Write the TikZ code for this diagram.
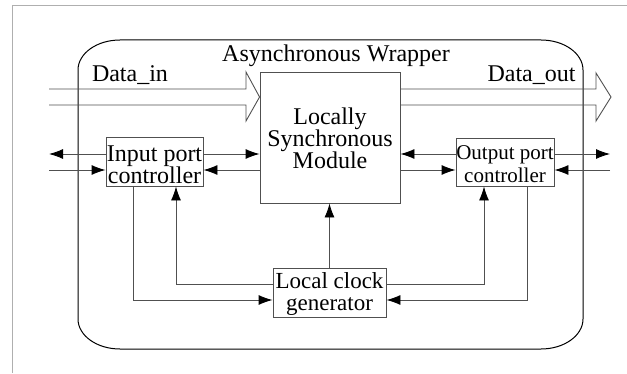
\documentclass[tikz,border=0pt]{standalone}
\usepackage{fontspec}
\setmainfont{Liberation Serif}
\usetikzlibrary{arrows.meta,calc}

\definecolor{linegray}{RGB}{80,80,80}
\definecolor{framegray}{RGB}{175,175,175}

\tikzset{
  conn/.style={draw=linegray, line width=0.9pt},
  arr/.style={conn, -{Latex[length=14pt,width=10pt,color=black]}},
  blockbox/.style={draw=linegray, line width=0.9pt, inner sep=0pt},
  txt/.style={inner sep=0pt, align=center, text=black, font=\fontsize{24}{22}\selectfont},
  bus/.style={draw=linegray, line width=0.9pt, line join=miter},
}

\begin{document}
\begin{tikzpicture}[x=1pt,y=1pt]
\useasboundingbox (0,0) rectangle (627,373);

% page frame
\draw[framegray, line width=1pt] (12,0) -- (12,367) -- (627,367);

% asynchronous wrapper outline
\draw[black, line width=1pt]
  (78,54) -- (78,303)
  arc[start angle=180, end angle=90, x radius=42, y radius=30]
  -- (541,333)
  arc[start angle=90, end angle=0, x radius=42, y radius=30]
  -- (583,54)
  arc[start angle=0, end angle=-90, x radius=42, y radius=30]
  -- (120,24)
  arc[start angle=270, end angle=180, x radius=42, y radius=30]
  -- cycle;
\node[txt, anchor=base] (title) at (336,311) {Asynchronous Wrapper};

% blocks
\node[blockbox, minimum width=140pt, minimum height=131pt] (mod) at (330,235.5) {};
\node[txt, yshift=-0.5pt] (modtxt) at (mod.center) {Locally\\Synchronous\\Module};

\node[blockbox, minimum width=97pt, minimum height=49pt] (inp) at (154.5,211.5) {};
\node[txt, yshift=-3pt] (inptxt) at (inp.center) {Input port\\controller};

\node[blockbox, minimum width=98pt, minimum height=48pt] (outp) at (505,211) {};
\node[txt, yshift=-2pt, font=\fontsize{21}{22.5}\selectfont] (outptxt) at (outp.center) {Output port\\controller};

\node[blockbox, minimum width=113pt, minimum height=49pt] (clk) at (329.5,80.5) {};
\node[txt, yshift=-1.5pt, font=\fontsize{23}{21.6}\selectfont] (clktxt) at (clk.center) {Local clock\\generator};

% rows used by the connectors
\coordinate (r1) at (0,219);
\coordinate (r2) at (0,203);
\coordinate (r3) at (0,89);
\coordinate (r4) at (0,73);
\coordinate (bt) at (0,284);
\coordinate (bb) at (0,268);
\coordinate (inL) at (49,0);
\coordinate (inR) at (246,0);
\coordinate (outR) at (596,0);
\coordinate (sideL) at (49,0);
\coordinate (sideR) at (610,0);

% Data_in bus
\draw[bus] (inL |- bt) -- (inR |- bt) -- ($(inR |- bt)+(0,17)$)
  -- (mod.west |- 0,276) -- ($(inR |- bb)+(0,-16)$) -- (inR |- bb) -- (inL |- bb);
\node[txt, anchor=base] (din) at (130,291) {Data\_in};

% Data_out bus
\draw[bus] (mod.east |- bt) -- (outR |- bt) -- ($(outR |- bt)+(0,16)$)
  -- (611,276) -- ($(outR |- bb)+(0,-16)$) -- (outR |- bb) -- (mod.east |- bb);
\node[txt, anchor=base] (dout) at (531.5,291) {Data\_out};

% input port controller links
\draw[arr] (inp.west |- r1) -- (sideL |- r1);
\draw[arr] (sideL |- r2) -- (inp.west |- r2);
\draw[arr] (inp.east |- r1) -- (mod.west |- r1);
\draw[arr] (mod.west |- r2) -- (inp.east |- r2);

% output port controller links
\draw[arr] (outp.west |- r1) -- (mod.east |- r1);
\draw[arr] (mod.east |- r2) -- (outp.west |- r2);
\draw[arr] (outp.east |- r1) -- (sideR |- r1);
\draw[arr] (sideR |- r2) -- (outp.east |- r2);

% clock generator links
\draw[arr] ([xshift=-21.5pt]inp.south) |- (clk.west |- r4);
\draw[arr] (clk.west |- r3) -| ([xshift=21.5pt]inp.south);
\draw[arr] (clk.north) -- (clk.north |- mod.south);
\draw[arr] (clk.east |- r3) -| ([xshift=-21pt]outp.south);
\draw[arr] ([xshift=22pt]outp.south) |- (clk.east |- r4);
\end{tikzpicture}
\end{document}
